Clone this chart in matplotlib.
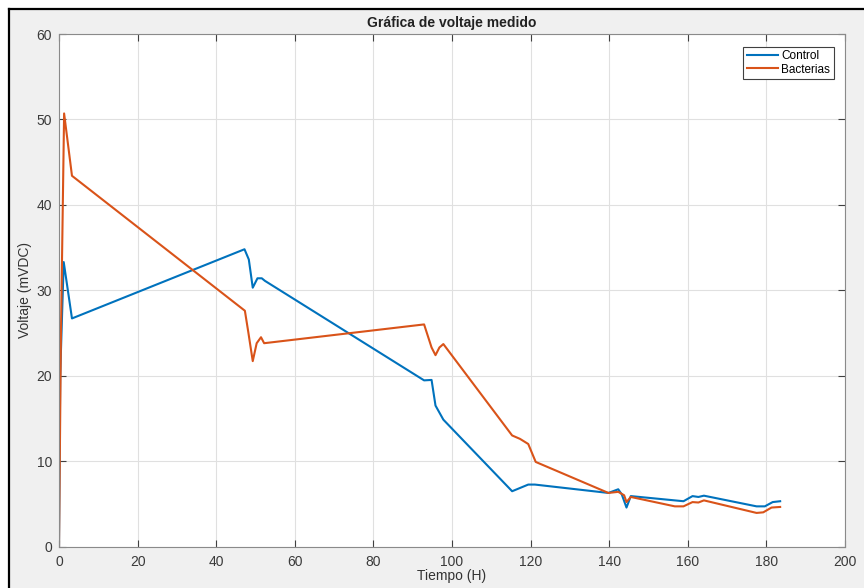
import matplotlib
matplotlib.use("Agg")
import matplotlib.pyplot as plt
from matplotlib.patches import Rectangle
from matplotlib.lines import Line2D

plt.rcParams['font.family'] = ['Liberation Sans', 'DejaVu Sans']

# Data
control_t = [0, 0.3, 1.2, 3.3, 47.2, 48.3, 49.3, 50.5, 51.6, 52.4, 92.9, 94.8, 95.8, 97.8,
             115.3, 119.4, 121.1, 139.8, 142.3, 143.2, 144.4, 145.5, 158.9, 161.2, 162.7,
             164.1, 177.5, 179.6, 181.6, 183.5]
control_v = [0, 20.0, 33.3, 26.7, 34.8, 33.6, 30.3, 31.4, 31.4, 31.1, 19.45, 19.5, 16.5, 14.85,
             6.47, 7.25, 7.25, 6.27, 6.7, 6.1, 4.56, 5.9, 5.3, 5.9, 5.8,
             5.95, 4.7, 4.7, 5.2, 5.3]

bact_t = [0, 0.5, 1.3, 3.3, 47.3, 48.2, 49.3, 50.3, 51.4, 52.2, 92.9, 94.8, 95.8, 96.8, 97.8,
          115.3, 117.3, 119.4, 121.3, 139.8, 142.3, 143.8, 144.4, 145.5, 156.7, 158.9, 161.2,
          162.7, 164.1, 177.5, 179.2, 181.3, 183.5]
bact_v = [0, 25.0, 50.7, 43.4, 27.6, 25.0, 21.7, 23.8, 24.5, 23.8, 26.0, 23.3, 22.4, 23.3, 23.7,
          13.0, 12.6, 12.0, 9.9, 6.27, 6.4, 6.0, 5.2, 5.8, 4.7, 4.7, 5.2,
          5.15, 5.4, 3.93, 4.0, 4.56, 4.63]

x_ticks = [0, 20, 40, 60, 80, 100, 120, 140, 160, 180, 200]
y_ticks = [0, 10, 20, 30, 40, 50, 60]

W, H = 864, 588
fig = plt.figure(figsize=(W / 100, H / 100), dpi=100, facecolor='white')

# window background and frame (left/top border visible)
fig.patches.append(Rectangle((8 / W, 0), 1 - 8 / W, 1 - 8 / H, transform=fig.transFigure,
                             facecolor='#f0f0f0', edgecolor='none', zorder=-10))
fig.lines.append(Line2D([8.5 / W, 8.5 / W], [0, 1 - 8.5 / H], transform=fig.transFigure,
                        color='black', lw=1.6))
fig.lines.append(Line2D([8.5 / W, 1], [1 - 8.5 / H, 1 - 8.5 / H], transform=fig.transFigure,
                        color='black', lw=1.6))

ax = fig.add_axes([59 / W, 1 - 546.5 / H, (845 - 59) / W, (546.5 - 34) / H])
ax.set_facecolor('white')

ax.plot(control_t, control_v, color='#0072BD', lw=1.5, label='Control')
ax.plot(bact_t, bact_v, color='#D95319', lw=1.5, label='Bacterias')

ax.set_xlim(0, 200)
ax.set_ylim(0, 60)
ax.set_xticks(x_ticks)
ax.set_yticks(y_ticks)
ax.grid(True, color='#e0e0e0', lw=0.8)
ax.set_axisbelow(True)

for s in ax.spines.values():
    s.set_color('#8a8a8a')
    s.set_linewidth(0.8)

ax.tick_params(direction='in', length=5, width=0.8, color='#404040',
               top=True, right=True, labelsize=10, labelcolor='#3a3a3a')
ax.tick_params(axis='x', pad=6)
ax.tick_params(axis='y', pad=5)

ax.set_title('Gráfica de voltaje medido', fontsize=10, fontweight='bold', color='#222222', pad=5)
ax.set_xlabel('Tiempo (H)', fontsize=10, color='#333333', labelpad=0)
ax.set_ylabel('Voltaje (mVDC)', fontsize=10, color='#333333', labelpad=3)

leg = ax.legend(loc='upper right', bbox_to_anchor=(0.9855, 0.975), fontsize=8.5,
                frameon=True, fancybox=False, borderpad=0.3, labelspacing=0.1,
                handlelength=2.6, handletextpad=0.3, borderaxespad=0)
leg.get_frame().set_edgecolor('#404040')
leg.get_frame().set_linewidth(0.8)
leg.get_frame().set_facecolor('white')
leg.get_frame().set_alpha(1)

fig.savefig('out.png', dpi=100, facecolor=fig.get_facecolor())
